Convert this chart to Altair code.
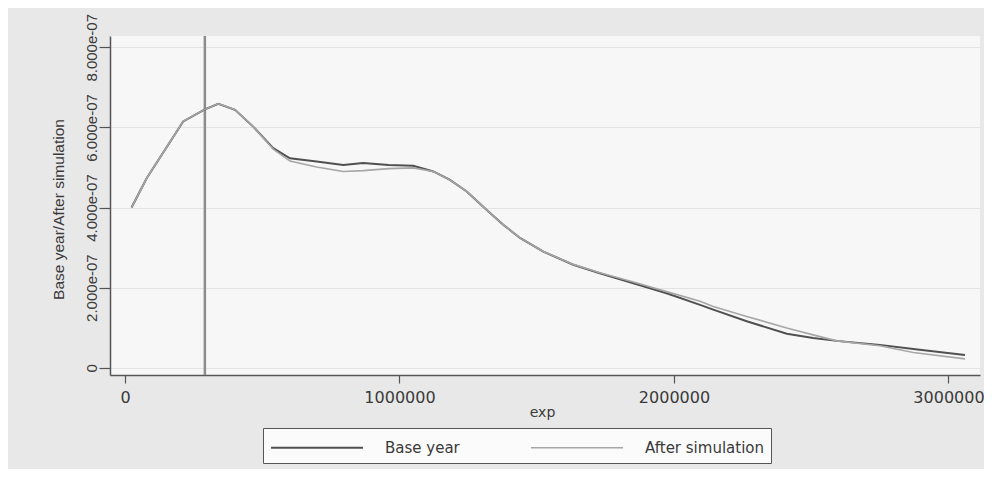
import altair as alt
import pandas as pd

# ---- data ----
exp_vals = [24000, 79000, 212000, 291000, 340000, 401000, 467000, 540000, 601000, 698000,
            795000, 868000, 960000, 1050000, 1123000, 1184000, 1245000, 1318000, 1378000,
            1439000, 1524000, 1633000, 1730000, 1852000, 1973000, 2095000, 2143000, 2265000,
            2411000, 2507000, 2593000, 2750000, 2872000, 3060000]
base_year = [4.00, 4.73, 6.15, 6.45, 6.59, 6.44, 6.02, 5.48, 5.23, 5.15,
             5.06, 5.11, 5.06, 5.04, 4.90, 4.69, 4.40, 3.94, 3.57,
             3.24, 2.90, 2.57, 2.36, 2.11, 1.86, 1.57, 1.45, 1.16,
             0.85, 0.74, 0.67, 0.57, 0.47, 0.32]
after_sim = [4.00, 4.73, 6.15, 6.45, 6.59, 6.44, 6.02, 5.46, 5.16, 5.01,
             4.90, 4.92, 4.97, 4.99, 4.90, 4.69, 4.40, 3.94, 3.57,
             3.24, 2.90, 2.58, 2.37, 2.14, 1.90, 1.66, 1.53, 1.28,
             0.99, 0.82, 0.67, 0.55, 0.38, 0.22]
value_unit = 1e-7
vline_exp = [291000]
series_names = ["Base year", "After simulation"]
x_ticks = [0, 1000000, 2000000, 3000000]
y_ticks = [0, 2e-7, 4e-7, 6e-7, 8e-7]

n = len(exp_vals)
df = pd.DataFrame({
    "exp": exp_vals + exp_vals,
    "value": [v * value_unit for v in base_year] + [v * value_unit for v in after_sim],
    "series": [series_names[0]] * n + [series_names[1]] * n,
})
vline_df = pd.DataFrame({"exp": vline_exp})

x_scale = alt.Scale(domain=[-54600, 3114800], nice=False, zero=False)
y_scale = alt.Scale(domain=[-0.182e-7, 8.282e-7], nice=False, zero=False)

axis_col = "#555555"
text_col = "#3a3a3a"

x_axis = alt.Axis(
    values=x_ticks, format="d", title="exp", grid=False,
    tickSize=8, tickColor=axis_col, tickWidth=1.2,
    domainColor=axis_col, domainWidth=1.5,
    labelFont="DejaVu Sans", labelFontSize=16, labelColor=text_col,
    labelPadding=6, labelFlush=False, labelOverlap=False,
    titleFont="DejaVu Sans", titleFontSize=14, titleColor=text_col,
    titleFontWeight="normal", titleX=432, titleY=41, titleBaseline="alphabetic",
)

y_axis = alt.Axis(
    values=y_ticks,
    labelExpr="datum.value == 0 ? '0' : replace(format(datum.value, '.3e'), 'e-', 'e-0')",
    labelAngle=270, labelAlign="center", labelBaseline="alphabetic",
    labelPadding=3, tickSize=11, tickColor=axis_col, tickWidth=1.2,
    domainColor=axis_col, domainWidth=1.5,
    grid=True, gridColor="#e3e3e3", gridWidth=1,
    labelFont="Liberation Sans", labelFontSize=15, labelColor=text_col,
    labelFlush=False, labelOverlap=False,
    title="Base year/After simulation", titleAngle=270, titleX=-44, titleY=173,
    titleAlign="center", titleBaseline="bottom",
    titleFont="Liberation Sans", titleFontSize=15.5, titleColor=text_col,
    titleFontWeight="normal",
)

rule = alt.Chart(vline_df).mark_rule(color="#8c8c8c", strokeWidth=2.5).encode(
    x=alt.X("exp:Q", scale=x_scale, axis=x_axis)
)

lines = alt.Chart(df).mark_line().encode(
    x=alt.X("exp:Q", scale=x_scale, axis=x_axis),
    y=alt.Y("value:Q", scale=y_scale, axis=y_axis),
    color=alt.Color(
        "series:N",
        scale=alt.Scale(domain=series_names, range=["#505050", "#a6a6a6"]),
        legend=alt.Legend(
            title=None, orient="none", legendX=153, legendY=392,
            direction="horizontal", symbolType="M-1,0H7", symbolSize=529,
            symbolStrokeWidth=1.6, labelOffset=90, columnPadding=67, padding=7,
            strokeColor=axis_col, fillColor="#fbfbfb",
            labelFont="DejaVu Sans", labelFontSize=15, labelColor=text_col,
            labelLimit=300,
        ),
    ),
    strokeWidth=alt.StrokeWidth(
        "series:N", scale=alt.Scale(domain=series_names, range=[2.0, 1.6]), legend=None
    ),
)

chart = alt.layer(rule, lines).properties(
    width=870, height=339,
    autosize=alt.AutoSizeParams(type="none"),
    padding={"left": 102, "top": 28, "right": 4, "bottom": 94},
).configure(background="#e8e8e8").configure_view(fill="#f7f7f7", strokeWidth=0)

chart.save("out.html", embed_options={"renderer": "svg", "actions": False})
